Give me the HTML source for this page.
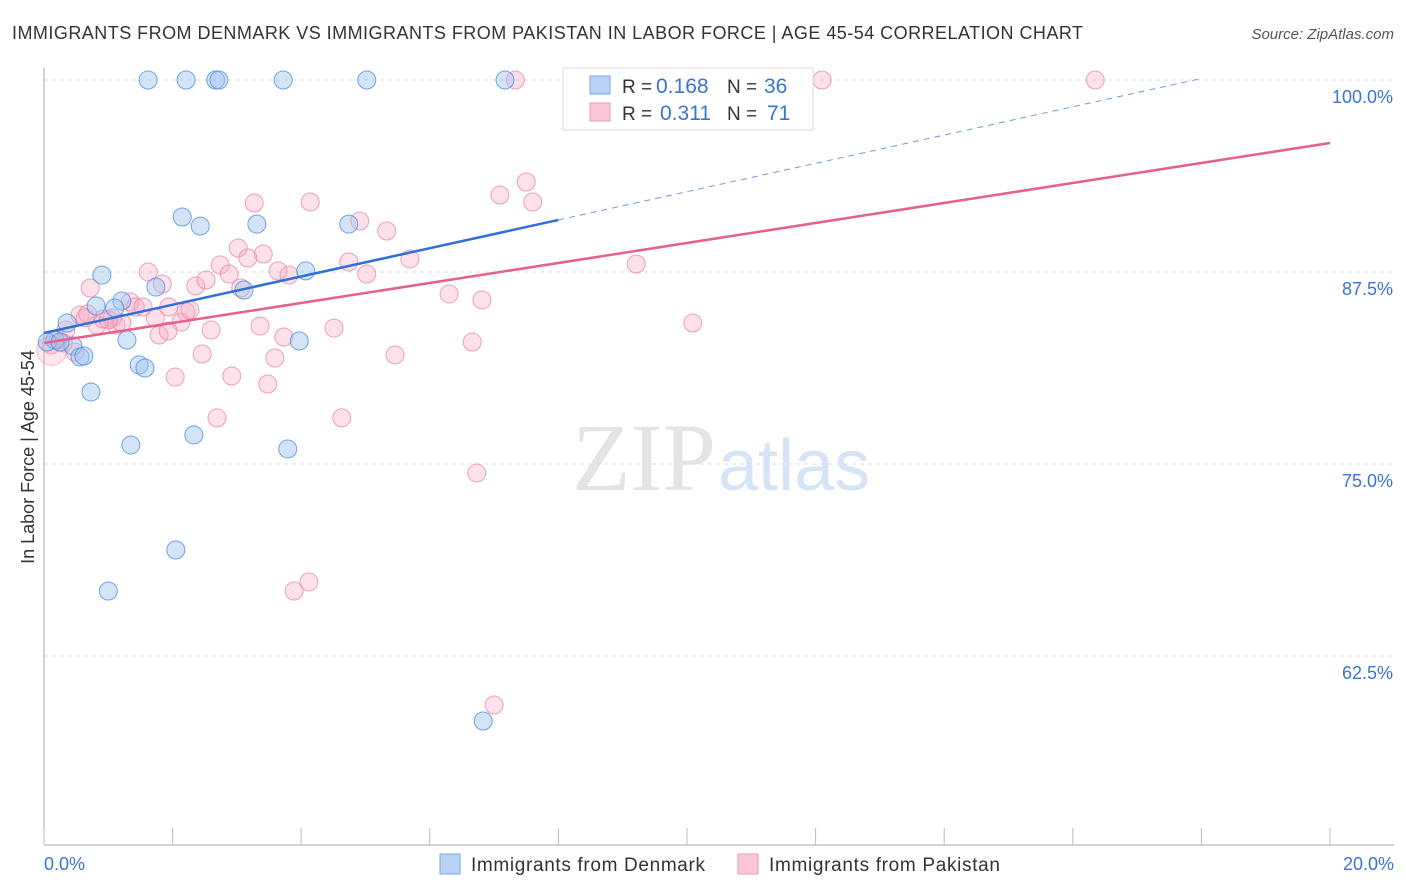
<!DOCTYPE html>
<html><head><meta charset="utf-8"><style>
body{margin:0;background:#fff;font-family:"Liberation Sans",sans-serif}
svg{display:block}
</style></head><body>
<svg id="c" width="1406" height="892" xmlns="http://www.w3.org/2000/svg">
<text x="12" y="39" font-size="18" fill="#333" textLength="1071">IMMIGRANTS FROM DENMARK VS IMMIGRANTS FROM PAKISTAN IN LABOR FORCE | AGE 45-54 CORRELATION CHART</text>
<text x="1394" y="39" font-size="15" fill="#555" font-style="italic" text-anchor="end">Source: ZipAtlas.com</text>
<text x="716" y="490" font-size="96" fill="#e4e4e4" text-anchor="end" font-family="Liberation Serif">ZIP</text>
<text x="718" y="490" font-size="72" fill="#d6e4f6">atlas</text>
<text transform="translate(34,457) rotate(-90)" font-size="18" fill="#333" text-anchor="middle">In Labor Force | Age 45-54</text>
<g id="grid"></g><g id="pts"></g><g id="trend"></g>
<g>
<rect x="563" y="68" width="250" height="62" fill="#fff" stroke="#ddd"/>
<rect x="590" y="76" width="20" height="18" fill="#b9d3f5" stroke="#7aa6e4"/>
<text x="622" y="93" font-size="19" fill="#333">R =</text>
<text x="656" y="93" font-size="21" fill="#3a74d0">0.168</text>
<text x="727" y="93" font-size="19" fill="#333">N =</text>
<text x="764" y="93" font-size="21" fill="#3a74d0">36</text>
<rect x="590" y="103" width="20" height="18" fill="#fbc6d5" stroke="#ee9bb4"/>
<text x="622" y="120" font-size="19" fill="#333">R =</text>
<text x="660" y="120" font-size="21" fill="#3a74d0">0.311</text>
<text x="727" y="120" font-size="19" fill="#333">N =</text>
<text x="767" y="120" font-size="21" fill="#3a74d0">71</text>
</g>
<g>
<rect x="440" y="854" width="20" height="20" fill="#b9d3f5" stroke="#7aa6e4"/>
<text x="471" y="871" font-size="19" fill="#333" textLength="234">Immigrants from Denmark</text>
<rect x="738" y="854" width="20" height="20" fill="#fbc6d5" stroke="#ee9bb4"/>
<text x="769" y="871" font-size="19" fill="#333" textLength="231">Immigrants from Pakistan</text>
</g>
</svg>
<script>
const yTicks=[100,87.5,75,62.5];
const yTickLabels=["100.0%","87.5%","75.0%","62.5%"];
const xTickLabels=["0.0%","20.0%"];
const denmarkX=[1.62,2.21,2.67,2.72,3.72,5.02,7.17,2.15,2.43,3.31,4.74,0.90,4.07,1.74,3.11,0.81,1.21,1.10,0.36,0.17,0.05,0.45,0.56,0.62,1.29,1.48,1.57,3.97,0.73,1.35,2.33,3.79,2.05,1.00,6.83,0.25];
const denmarkY=[100,100,100,100,100,100,100,91.08,90.49,90.62,90.62,87.30,87.57,86.52,86.33,85.29,85.61,85.16,84.18,83.07,82.94,82.68,81.97,82.03,83.07,81.45,81.25,83.01,79.69,76.24,76.89,75.98,69.40,66.73,58.27,82.94];
const pakX=[0.11,0.22,0.34,0.48,0.72,0.56,0.64,0.82,0.92,1.06,1.12,1.21,1.34,1.42,1.54,1.62,1.73,1.84,1.79,1.94,2.04,2.13,2.21,2.27,2.36,2.46,2.52,2.60,2.69,2.74,2.88,2.92,3.02,3.06,3.17,3.27,3.36,3.41,3.48,3.59,3.64,3.73,3.81,4.14,4.51,4.63,4.74,4.91,5.02,5.33,5.46,5.69,6.30,6.66,6.81,6.73,7.09,7.50,7.60,7.33,7.00,3.89,4.12,9.21,10.09,12.10,16.35,0.68,1.00,0.30,1.93];
const pakY=[82.75,83.07,83.72,82.29,86.46,84.70,84.51,84.05,84.44,84.51,84.05,84.18,85.55,85.22,85.22,87.50,84.51,86.72,83.40,85.22,80.66,84.24,84.90,85.03,86.59,82.16,86.98,83.72,78.00,87.96,87.37,80.73,89.06,86.46,88.41,91.99,83.98,88.67,80.21,81.90,87.57,83.27,87.30,92.06,83.85,78.00,88.15,90.82,87.37,90.17,82.10,88.35,86.07,82.94,85.68,74.41,92.51,93.36,92.06,100,59.31,66.73,67.32,88.02,84.18,100,100,84.77,84.38,82.88,83.66];
const denmarkTrend=[[0,83.53],[8,90.89],[18,100.1]];
const pakTrend=[[0,82.88],[20,95.9]];
const X=v=>44+v/20*1286, Y=v=>80+(100-v)/12.5*192;
const NS="http://www.w3.org/2000/svg";
function mk(p,t,a){const e=document.createElementNS(NS,t);for(const k in a)e.setAttribute(k,a[k]);p.appendChild(e);return e;}
const g=document.getElementById('grid');
yTicks.forEach((v,i)=>{
 const l=mk(g,'line',{x1:44,x2:1394,y1:Y(v),y2:Y(v),stroke:'#ddd','stroke-dasharray':'4,4'});
 
 
 const t=mk(g,'text',{x:1393,y:Y(v)+23,'font-size':18,fill:'#3a74d0','text-anchor':'end'});t.textContent=yTickLabels[i];
 
 
});
mk(g,'line',{x1:44,x2:44,y1:68,y2:845,stroke:'#aaa'});
const ax=mk(g,'line',{x1:44,x2:1394,y1:845,y2:845,stroke:'#aaa'});


for(let k=0;k<=10;k++){mk(g,'line',{x1:X(k*2),x2:X(k*2),y1:828,y2:845,stroke:'#bbb'});}
[[0,'start',44],[20,'end',1394]].forEach((d,i)=>{const t=mk(g,'text',{x:d[2],y:870,'font-size':18,fill:'#3a74d0','text-anchor':d[1]});t.textContent=xTickLabels[i];
 
 });
const P=document.getElementById('pts');
const big1=mk(P,'circle',{cx:X(0.12),cy:Y(82.4),r:15,fill:'rgba(246,170,195,0.3)',stroke:'rgba(233,130,165,0.5)'});


pakX.forEach((v,i)=>{const c=mk(P,'circle',{cx:X(v),cy:Y(pakY[i]),r:9,fill:'rgba(246,170,195,0.35)',stroke:'rgba(233,130,165,0.75)'});
 
 });
denmarkX.forEach((v,i)=>{const c=mk(P,'circle',{cx:X(v),cy:Y(denmarkY[i]),r:9,fill:'rgba(160,195,240,0.45)',stroke:'rgba(80,140,220,0.8)'});
 
 });
const T=document.getElementById('trend');
let l=mk(T,'line',{x1:X(denmarkTrend[0][0]),y1:Y(denmarkTrend[0][1]),x2:X(denmarkTrend[1][0]),y2:Y(denmarkTrend[1][1]),stroke:'#2f6fd6','stroke-width':2.5});


l=mk(T,'line',{x1:X(denmarkTrend[1][0]),y1:Y(denmarkTrend[1][1]),x2:X(denmarkTrend[2][0]),y2:Y(denmarkTrend[2][1]),stroke:'#6d9ae0','stroke-width':1,'stroke-dasharray':'6,5'});


l=mk(T,'line',{x1:X(pakTrend[0][0]),y1:Y(pakTrend[0][1]),x2:X(pakTrend[1][0]),y2:Y(pakTrend[1][1]),stroke:'#e5608c','stroke-width':2.5});


</script>
</body></html>
